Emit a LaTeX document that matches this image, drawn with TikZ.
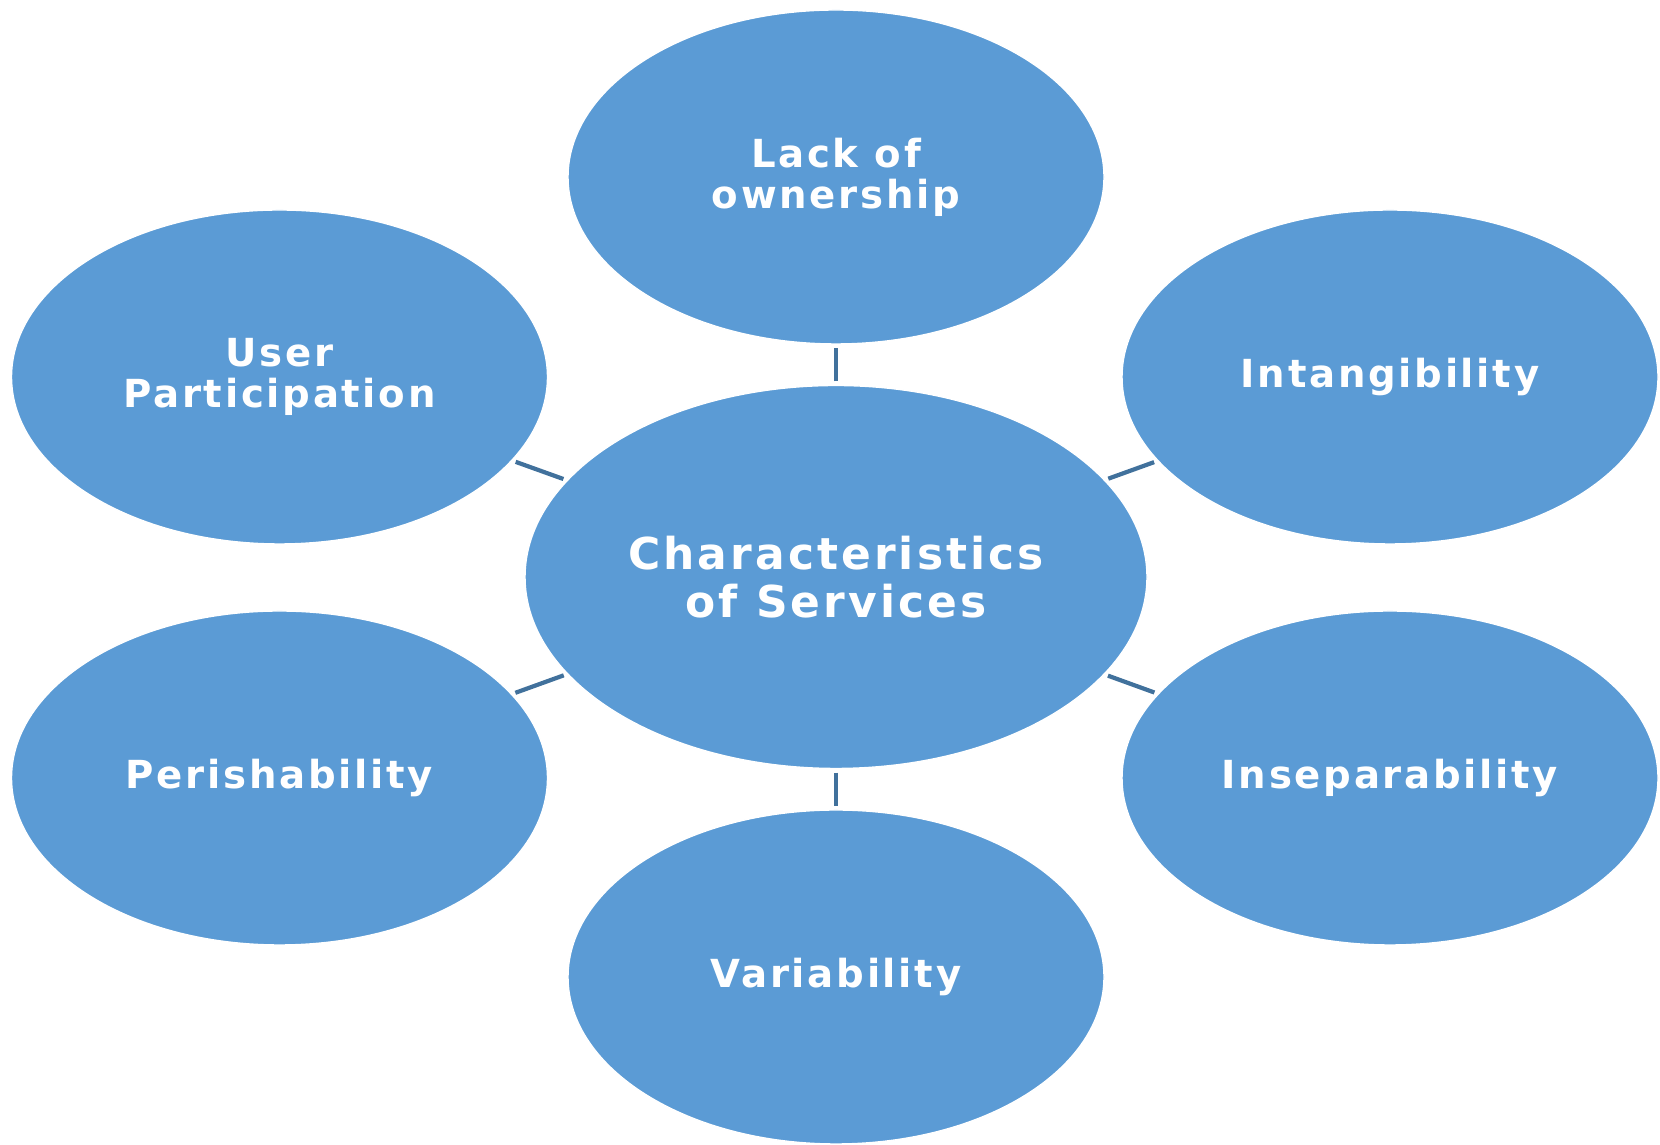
\documentclass[tikz,border=0pt]{standalone}
\usepackage{fontspec}
\usetikzlibrary{shapes.geometric}
\newfontfamily\bubblefont{DejaVu Sans Bold}[LetterSpace=7]
\definecolor{bubbleblue}{HTML}{5B9BD5}
\definecolor{linkblue}{HTML}{41719C}

\begin{document}
\begin{tikzpicture}[
        bubble/.style={ellipse, fill=bubbleblue, draw=white, line width=0.8pt, inner sep=0pt,
                minimum width=10.72cm, minimum height=6.68cm, text=white, align=center,
                font=\bubblefont\fontsize{22}{23.5}\selectfont},
        hub/.style={bubble, minimum width=12.44cm, minimum height=7.66cm,
                font=\bubblefont\fontsize{25}{27}\selectfont},
        link/.style={linkblue, line width=2.4pt, shorten <=2pt, shorten >=2pt}
    ]
        \useasboundingbox (0,0) rectangle (33.2,22.9);

        % Draw the centre
        \node[hub] (ctr) at (16.72, 11.36) {Characteristics\\of Services};

        % Draw the characteristics
        \node[bubble] (lack) at (16.72, 19.36) {Lack of\\ownership};
        \node[bubble] (intang) at (27.8, 15.36) {Intangibility};
        \node[bubble] (insep) at (27.8, 7.34) {Inseparability};
        \node[bubble] (var) at (16.72, 3.36) {Variability};
        \node[bubble] (perish) at (5.59, 7.34) {Perishability};
        \node[bubble] (user) at (5.59, 15.36) {User\\Participation};

        % Connect them to the centre
        \foreach \n in {lack, intang, insep, var, perish, user} {
                \draw[link] (ctr) -- (\n);
            }
    \end{tikzpicture}
\end{document}
